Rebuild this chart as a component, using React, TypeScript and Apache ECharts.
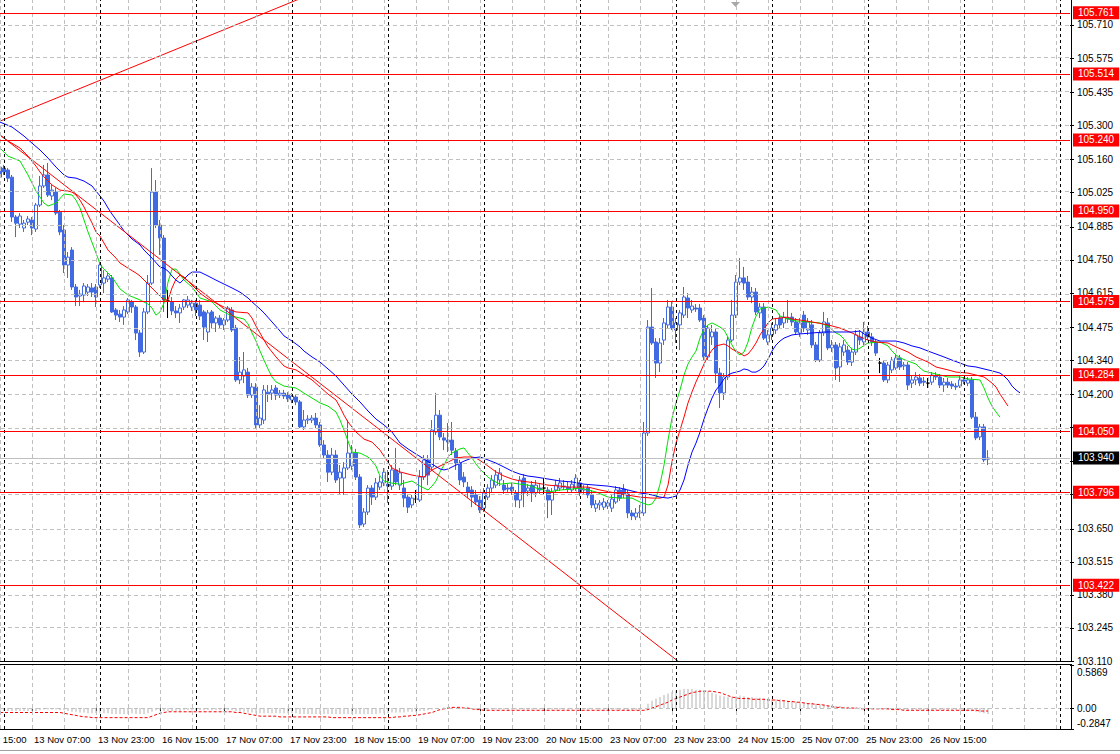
import React, { useEffect, useRef } from "react";
import * as echarts from "echarts";

const FONT = "'Liberation Sans', Arial, sans-serif";

// time scale: hourly bars, the first slot is 12 Nov 15:00 (partly off-screen)
const DAYS = ["12 Nov", "13 Nov", "16 Nov", "17 Nov", "18 Nov", "19 Nov", "20 Nov", "23 Nov", "24 Nov", "25 Nov", "26 Nov", "27 Nov", "30 Nov"];
const FIRST_HOUR = 15;
const TOTAL_SLOTS = 276;
const LEAD = 8; // first candle = 12 Nov 23:00

// candles: [open, high, low, close], hourly from 12 Nov 23:00
const candles: number[][] = [
  [105.129,105.146,105.076,105.088],[105.125,105.138,105.097,105.109],[105.117,105.125,105.068,105.084],[105.088,105.097,104.905,104.925],
  [104.925,104.933,104.843,104.900],[104.896,104.941,104.880,104.929],[104.880,104.913,104.864,104.900],[104.904,104.929,104.892,104.917],
  [104.913,104.925,104.851,104.880],[104.876,104.982,104.864,104.974],[104.974,105.093,104.966,105.052],[105.052,105.138,105.044,105.097],
  [105.097,105.146,105.007,105.015],[105.011,105.056,104.994,105.035],[105.027,105.044,104.933,104.941],[104.945,104.954,104.851,104.864],
  [104.872,104.892,104.696,104.729],[104.729,104.782,104.676,104.761],[104.790,104.802,104.627,104.639],[104.639,104.651,104.561,104.598],
  [104.602,104.627,104.561,104.610],[104.606,104.655,104.577,104.643],[104.618,104.651,104.602,104.639],[104.635,104.655,104.598,104.618],
  [104.639,104.651,104.557,104.598],[104.647,104.741,104.635,104.729],[104.655,104.708,104.614,104.676],[104.671,104.696,104.659,104.684],
  [104.676,104.688,104.533,104.537],[104.545,104.553,104.504,104.524],[104.528,104.545,104.496,104.516],[104.516,104.561,104.484,104.545],
  [104.537,104.594,104.528,104.586],[104.578,104.586,104.533,104.557],[104.557,104.565,104.422,104.451],[104.451,104.463,104.353,104.373],
  [104.373,104.553,104.365,104.537],[104.537,104.688,104.528,104.655],[104.655,105.125,104.647,105.027],[105.027,105.076,104.880,104.892],
  [104.892,104.913,104.770,104.839],[104.839,104.851,104.537,104.586],[104.582,104.627,104.512,104.582],[104.578,104.598,104.524,104.541],
  [104.541,104.561,104.512,104.533],[104.533,104.569,104.492,104.553],[104.557,104.590,104.545,104.586],[104.565,104.602,104.553,104.586],
  [104.557,104.586,104.541,104.573],[104.573,104.586,104.520,104.545],[104.565,104.586,104.504,104.520],[104.537,104.545,104.422,104.475],
  [104.455,104.545,104.414,104.533],[104.537,104.545,104.471,104.492],[104.492,104.520,104.455,104.512],[104.512,104.524,104.467,104.484],
  [104.484,104.512,104.463,104.504],[104.504,104.561,104.496,104.553],[104.545,104.557,104.455,104.463],[104.471,104.484,104.251,104.259],
  [104.259,104.353,104.242,104.291],[104.275,104.373,104.246,104.300],[104.291,104.308,104.185,104.197],[104.197,104.246,104.185,104.230],
  [104.230,104.246,104.062,104.075],[104.075,104.156,104.062,104.103],[104.095,104.238,104.079,104.218],[104.209,104.238,104.169,104.201],
  [104.205,104.238,104.177,104.218],[104.226,104.238,104.177,104.197],[104.197,104.218,104.185,104.205],[104.205,104.218,104.181,104.193],
  [104.197,104.209,104.169,104.181],[104.177,104.205,104.164,104.193],[104.189,104.197,104.156,104.169],[104.169,104.177,104.062,104.067],
  [104.067,104.136,104.054,104.095],[104.095,104.115,104.079,104.099],[104.095,104.115,104.083,104.103],[104.103,104.124,104.062,104.075],
  [104.075,104.087,103.985,103.993],[103.993,104.013,103.940,103.952],[103.952,103.972,103.842,103.882],[103.882,103.981,103.870,103.952],
  [103.952,103.972,103.838,103.850],[103.858,103.911,103.789,103.882],[103.858,103.923,103.789,103.899],[103.899,104.095,103.891,103.960],
  [103.907,103.993,103.891,103.960],[103.960,103.977,103.850,103.862],[103.862,103.874,103.654,103.666],[103.670,103.735,103.658,103.719],
  [103.719,103.829,103.707,103.817],[103.817,103.829,103.748,103.780],[103.780,103.858,103.768,103.838],[103.821,103.866,103.809,103.842],
  [103.838,103.899,103.825,103.882],[103.833,103.891,103.756,103.825],[103.825,103.911,103.809,103.891],[103.891,103.981,103.829,103.842],
  [103.829,103.899,103.809,103.879],[103.817,103.850,103.739,103.776],[103.780,103.793,103.715,103.739],[103.748,103.789,103.735,103.776],
  [103.772,103.809,103.756,103.772],[103.768,103.891,103.760,103.862],[103.862,103.952,103.850,103.932],[103.932,103.952,103.829,103.870],
  [103.903,104.095,103.891,104.054],[104.046,104.206,104.034,104.115],[104.115,104.136,104.013,104.026],[104.022,104.042,103.972,104.013],
  [104.013,104.083,103.964,104.005],[104.013,104.087,103.952,103.972],[103.968,103.981,103.891,103.919],[103.919,103.932,103.829,103.850],
  [103.862,103.882,103.821,103.842],[103.821,103.842,103.776,103.801],[103.809,103.825,103.739,103.780],[103.789,103.809,103.748,103.760],
  [103.768,103.784,103.715,103.727],[103.735,103.817,103.719,103.797],[103.780,103.833,103.768,103.817],[103.817,103.870,103.801,103.850],
  [103.829,103.891,103.817,103.870],[103.850,103.899,103.825,103.879],[103.829,103.850,103.793,103.809],[103.817,103.833,103.797,103.813],
  [103.821,103.838,103.789,103.805],[103.797,103.809,103.739,103.768],[103.768,103.866,103.735,103.850],[103.858,103.874,103.739,103.797],
  [103.805,103.833,103.784,103.817],[103.829,103.846,103.760,103.797],[103.797,103.850,103.780,103.829],[103.817,103.833,103.793,103.809],
  [103.817,103.858,103.789,103.817],[103.809,103.821,103.694,103.768],[103.768,103.817,103.707,103.801],[103.809,103.850,103.797,103.829],
  [103.817,103.858,103.805,103.838],[103.825,103.850,103.809,103.821],[103.821,103.842,103.797,103.813],[103.809,103.850,103.797,103.833],
  [103.817,103.874,103.805,103.858],[103.838,103.850,103.784,103.797],[103.809,103.829,103.793,103.813],[103.817,103.829,103.776,103.789],
  [103.789,103.809,103.735,103.748],[103.735,103.768,103.719,103.752],[103.748,103.768,103.727,103.756],[103.739,103.776,103.727,103.760],
  [103.743,103.768,103.731,103.756],[103.735,103.793,103.719,103.772],[103.760,103.825,103.752,103.809],[103.809,103.821,103.764,103.776],
  [103.813,103.833,103.776,103.793],[103.793,103.809,103.694,103.715],[103.715,103.727,103.686,103.703],[103.699,103.735,103.686,103.715],
  [103.715,103.748,103.694,103.719],[103.715,104.087,103.703,104.042],[104.042,104.504,104.030,104.475],[104.475,104.635,104.402,104.410],
  [104.414,104.430,104.267,104.328],[104.328,104.430,104.291,104.410],[104.422,104.512,104.402,104.492],[104.484,104.586,104.471,104.557],
  [104.557,104.578,104.463,104.471],[104.463,104.512,104.410,104.492],[104.484,104.545,104.381,104.533],[104.524,104.639,104.512,104.598],
  [104.594,104.614,104.512,104.553],[104.545,104.586,104.533,104.561],[104.553,104.569,104.537,104.549],[104.553,104.569,104.496,104.504],
  [104.512,104.524,104.340,104.353],[104.353,104.484,104.340,104.471],[104.435,104.484,104.402,104.455],[104.455,104.471,104.246,104.287],
  [104.287,104.308,104.144,104.206],[104.206,104.287,104.177,104.271],[104.271,104.435,104.259,104.422],[104.422,104.586,104.414,104.524],
  [104.524,104.688,104.512,104.659],[104.659,104.757,104.647,104.676],[104.676,104.721,104.627,104.655],[104.659,104.684,104.586,104.598],
  [104.598,104.639,104.573,104.618],[104.618,104.635,104.524,104.537],[104.533,104.573,104.512,104.557],[104.557,104.573,104.422,104.430],
  [104.414,104.463,104.402,104.443],[104.443,104.492,104.422,104.471],[104.463,104.512,104.447,104.484],[104.512,104.528,104.471,104.484],
  [104.492,104.537,104.471,104.516],[104.512,104.586,104.492,104.508],[104.516,104.533,104.480,104.496],[104.496,104.512,104.443,104.455],
  [104.451,104.512,104.435,104.492],[104.524,104.541,104.455,104.471],[104.463,104.512,104.443,104.496],[104.484,104.504,104.390,104.402],
  [104.402,104.414,104.332,104.340],[104.340,104.463,104.332,104.451],[104.451,104.537,104.439,104.496],[104.492,104.512,104.381,104.390],
  [104.390,104.422,104.373,104.402],[104.402,104.414,104.259,104.308],[104.312,104.410,104.251,104.394],[104.373,104.422,104.357,104.402],
  [104.381,104.398,104.320,104.332],[104.332,104.390,104.316,104.373],[104.373,104.463,104.361,104.443],[104.435,104.463,104.402,104.422],
  [104.414,104.496,104.402,104.455],[104.455,104.480,104.422,104.435],[104.435,104.451,104.398,104.414],[104.414,104.422,104.357,104.369],
  [104.328,104.349,104.287,104.328],[104.328,104.340,104.251,104.259],[104.259,104.332,104.246,104.320],[104.300,104.353,104.287,104.340],
  [104.308,104.361,104.300,104.349],[104.349,104.361,104.300,104.312],[104.316,104.332,104.300,104.320],[104.320,104.332,104.218,104.238],
  [104.246,104.279,104.226,104.259],[104.259,104.291,104.238,104.271],[104.267,104.283,104.234,104.246],[104.254,104.271,104.234,104.250],
  [104.246,104.267,104.226,104.246],[104.250,104.291,104.238,104.279],[104.275,104.291,104.259,104.271],[104.271,104.283,104.226,104.238],
  [104.238,104.267,104.210,104.250],[104.250,104.267,104.226,104.238],[104.242,104.254,104.222,104.234],[104.234,104.246,104.218,104.230],
  [104.234,104.275,104.226,104.259],[104.259,104.271,104.242,104.254],[104.246,104.271,104.234,104.259],[104.259,104.271,104.099,104.107],
  [104.107,104.128,104.013,104.022],[104.026,104.079,104.013,104.067],[104.067,104.079,103.923,103.932],[103.935,103.972,103.911,103.940],
];
const dojiBars = [42, 104, 136, 220, 232];

// Alligator lines: [bar, price]
const lips: number[][] = [
  [0,105.207],[2,105.174],[5,105.154],[7,105.097],[9,105.031],[11,104.982],[12,104.970],[14,104.982],[16,105.019],[18,105.015],[19,104.994],[20,104.962],[22,104.864],[24,104.778],[25,104.733],[26,104.712],[28,104.680],[30,104.631],[32,104.606],[35,104.586],[37,104.569],[38,104.553],[39,104.524],[40,104.537],[41,104.573],[42,104.659],[43,104.712],[44,104.712],[45,104.692],[46,104.667],[48,104.639],[50,104.594],[53,104.578],[55,104.545],[57,104.528],[59,104.516],[61,104.508],[62,104.488],[63,104.451],[64,104.418],[65,104.377],[66,104.340],[67,104.304],[68,104.271],[69,104.251],[71,104.234],[74,104.226],[76,104.205],[78,104.185],[80,104.165],[82,104.152],[84,104.128],[85,104.095],[86,104.054],[87,104.009],[88,103.964],[90,103.960],[92,103.944],[93,103.928],[94,103.907],[95,103.866],[96,103.846],[98,103.837],[100,103.833],[103,103.846],[105,103.825],[107,103.809],[108,103.825],[109,103.846],[110,103.883],[111,103.911],[112,103.944],[113,103.960],[115,103.977],[116,103.981],[117,103.960],[118,103.940],[119,103.915],[120,103.895],[121,103.878],[122,103.862],[123,103.850],[125,103.833],[128,103.838],[130,103.833],[132,103.829],[134,103.817],[136,103.809],[137,103.801],[140,103.809],[143,103.813],[145,103.817],[147,103.809],[149,103.801],[152,103.780],[155,103.776],[158,103.776],[160,103.760],[162,103.748],[163,103.752],[164,103.776],[165,103.833],[166,103.911],[167,104.013],[168,104.103],[169,104.165],[170,104.218],[171,104.279],[172,104.324],[173,104.353],[174,104.377],[175,104.430],[176,104.467],[177,104.484],[178,104.492],[179,104.484],[180,104.475],[181,104.463],[182,104.434],[183,104.402],[184,104.373],[185,104.361],[186,104.373],[187,104.414],[188,104.475],[189,104.520],[190,104.549],[192,104.557],[194,104.545],[195,104.520],[197,104.508],[199,104.500],[202,104.496],[205,104.492],[207,104.479],[209,104.451],[210,104.443],[211,104.426],[212,104.402],[213,104.385],[214,104.381],[215,104.389],[217,104.410],[220,104.414],[222,104.398],[223,104.377],[224,104.361],[225,104.349],[227,104.336],[229,104.324],[230,104.308],[231,104.295],[233,104.287],[235,104.279],[237,104.271],[240,104.271],[242,104.263],[245,104.259],[246,104.226],[247,104.185],[248,104.152],[249,104.128],[250,104.107],
];
const teeth: number[][] = [
  [0,105.260],[2,105.236],[5,105.207],[7,105.174],[9,105.133],[10,105.109],[11,105.089],[13,105.056],[15,105.035],[17,105.031],[18,105.027],[19,105.015],[20,104.994],[21,104.966],[22,104.933],[23,104.901],[24,104.864],[25,104.847],[27,104.790],[29,104.757],[30,104.737],[32,104.716],[34,104.696],[35,104.684],[37,104.651],[39,104.618],[40,104.602],[41,104.586],[42,104.586],[43,104.635],[44,104.671],[45,104.688],[46,104.680],[48,104.647],[50,104.614],[52,104.590],[55,104.565],[57,104.549],[59,104.537],[62,104.533],[63,104.512],[64,104.479],[65,104.451],[66,104.422],[67,104.394],[69,104.353],[71,104.316],[72,104.308],[74,104.300],[76,104.279],[78,104.259],[80,104.230],[82,104.201],[84,104.177],[85,104.148],[86,104.115],[87,104.087],[89,104.046],[91,104.017],[93,104.005],[95,103.972],[97,103.923],[98,103.899],[100,103.883],[103,103.870],[106,103.862],[108,103.891],[110,103.907],[112,103.923],[114,103.940],[116,103.944],[118,103.944],[119,103.940],[121,103.919],[123,103.895],[124,103.883],[126,103.866],[128,103.854],[130,103.846],[132,103.842],[134,103.838],[137,103.829],[140,103.825],[142,103.821],[147,103.821],[150,103.809],[155,103.793],[160,103.780],[163,103.776],[165,103.776],[166,103.780],[167,103.829],[168,103.925],[169,104.001],[170,104.054],[171,104.107],[172,104.165],[173,104.210],[174,104.251],[175,104.287],[176,104.324],[177,104.357],[178,104.381],[179,104.398],[180,104.402],[181,104.406],[182,104.398],[183,104.385],[184,104.377],[185,104.369],[186,104.357],[187,104.365],[188,104.385],[189,104.410],[190,104.443],[191,104.467],[192,104.492],[193,104.508],[195,104.512],[197,104.516],[198,104.508],[200,104.504],[203,104.496],[207,104.484],[210,104.471],[213,104.451],[215,104.435],[217,104.422],[219,104.414],[222,104.410],[224,104.394],[227,104.373],[229,104.353],[232,104.332],[234,104.312],[237,104.300],[239,104.291],[242,104.287],[244,104.279],[246,104.271],[247,104.259],[248,104.246],[249,104.230],[250,104.201],[251,104.177],[252,104.152],
];
const jaw: number[][] = [
  [0,105.313],[3,105.293],[6,105.256],[8,105.227],[10,105.199],[12,105.166],[14,105.129],[16,105.097],[17,105.088],[19,105.084],[21,105.072],[23,105.052],[24,105.031],[25,105.011],[26,104.990],[27,104.962],[28,104.937],[30,104.892],[31,104.868],[33,104.835],[35,104.811],[36,104.790],[38,104.757],[40,104.720],[41,104.716],[42,104.704],[43,104.684],[44,104.667],[45,104.655],[46,104.671],[47,104.688],[48,104.700],[50,104.700],[52,104.684],[54,104.667],[56,104.651],[58,104.635],[60,104.618],[62,104.594],[63,104.578],[65,104.549],[66,104.533],[68,104.496],[70,104.459],[71,104.439],[73,104.418],[75,104.394],[76,104.377],[78,104.353],[80,104.332],[82,104.304],[84,104.275],[86,104.238],[88,104.201],[90,104.169],[92,104.132],[94,104.099],[96,104.075],[98,104.046],[100,104.001],[102,103.977],[104,103.956],[106,103.936],[108,103.915],[110,103.895],[111,103.891],[112,103.895],[114,103.911],[116,103.927],[118,103.940],[120,103.944],[122,103.932],[124,103.919],[126,103.903],[128,103.886],[130,103.874],[132,103.866],[134,103.862],[137,103.854],[140,103.846],[143,103.842],[146,103.833],[149,103.829],[152,103.825],[155,103.817],[158,103.805],[160,103.797],[163,103.789],[165,103.780],[167,103.776],[169,103.784],[170,103.809],[171,103.850],[172,103.911],[173,103.964],[174,104.001],[175,104.046],[176,104.099],[177,104.144],[178,104.185],[179,104.218],[180,104.238],[181,104.263],[182,104.279],[183,104.287],[185,104.295],[186,104.304],[187,104.300],[188,104.291],[189,104.291],[190,104.300],[191,104.316],[192,104.344],[193,104.377],[194,104.402],[195,104.418],[196,104.430],[198,104.443],[200,104.447],[203,104.451],[206,104.455],[210,104.455],[213,104.455],[215,104.459],[216,104.447],[217,104.439],[218,104.430],[220,104.418],[224,104.418],[226,104.410],[228,104.398],[230,104.390],[232,104.377],[234,104.365],[236,104.353],[238,104.340],[240,104.328],[242,104.316],[244,104.312],[246,104.304],[248,104.296],[250,104.287],[251,104.275],[252,104.259],[253,104.234],[254,104.218],[255,104.206],
];

// MACD sub-window, one value per candle
const macdMain: number[] = [
  -0.04,-0.04,-0.04,-0.04,-0.04,-0.04,-0.04,-0.04,-0.04,-0.04,-0.03,
  -0.02,-0.02,-0.02,-0.02,-0.03,
  -0.03,-0.04,-0.05,-0.05,-0.06,-0.06,-0.07,-0.07,-0.07,
  -0.07,-0.07,-0.07,-0.08,-0.08,-0.08,-0.08,-0.08,-0.07,-0.08,-0.08,-0.08,-0.07,
  -0.05,-0.03,-0.03,-0.04,-0.04,-0.04,-0.04,-0.04,-0.03,-0.03,-0.03,
  -0.03,-0.03,-0.03,-0.03,-0.03,-0.03,-0.03,-0.03,-0.03,-0.03,-0.04,-0.05,-0.05,-0.06,
  -0.06,-0.07,-0.07,-0.07,-0.07,-0.07,-0.07,-0.07,-0.07,-0.07,-0.07,-0.07,-0.08,-0.08,-0.08,-0.08,-0.08,-0.08,-0.08,-0.08,-0.08,-0.08,-0.08,-0.08,-0.08,-0.08,-0.08,
  -0.08,-0.08,-0.08,-0.08,-0.08,-0.07,-0.07,-0.07,-0.06,-0.06,-0.06,-0.06,-0.05,-0.05,-0.05,-0.04,-0.04,-0.03,-0.02,-0.01,0.00,0.01,
  0.01,0.01,0.00,-0.01,-0.01,-0.01,-0.01,-0.02,-0.02,
  -0.02,-0.02,-0.02,-0.02,-0.02,-0.02,-0.02,-0.02,-0.02,-0.02,
  -0.02,-0.02,-0.02,-0.02,-0.02,-0.02,-0.02,-0.02,-0.02,-0.02,
  -0.02,-0.02,-0.02,-0.02,-0.02,-0.02,-0.02,-0.02,-0.02,-0.02,
  -0.02,-0.02,-0.02,-0.02,-0.03,-0.03,-0.03,-0.03,-0.03,-0.03,
  0.00,0.06,0.10,0.13,0.15,0.18,0.20,0.22,0.24,0.25,
  0.26,0.26,0.26,0.25,0.25,0.24,0.23,0.21,0.19,0.17,
  0.16,0.15,0.15,0.16,0.17,0.16,0.15,0.15,0.14,0.14,0.13,0.13,0.12,0.12,0.12,
  0.11,0.10,0.10,0.09,0.09,0.08,0.07,0.07,0.06,0.05,0.05,0.04,0.04,0.03,0.03,
  0.02,0.02,0.01,0.01,0.01,0.00,0.00,0.00,0.00,-0.01,-0.01,-0.02,-0.02,-0.02,-0.02,
  -0.03,-0.03,-0.03,-0.03,-0.03,-0.03,-0.03,-0.03,-0.03,-0.03,-0.03,-0.03,-0.03,-0.03,-0.03,-0.03,-0.03,
  -0.04,-0.05,-0.06,-0.07,-0.08,
];
const macdSignal: number[] = [
  -0.06,-0.06,-0.06,-0.06,-0.06,-0.06,-0.06,-0.06,-0.06,-0.06,-0.06,-0.06,-0.06,-0.06,-0.06,-0.06,
  -0.07,-0.08,-0.09,-0.10,-0.11,-0.12,-0.12,
  -0.13,-0.13,-0.13,-0.13,-0.13,-0.13,-0.13,-0.13,-0.13,-0.13,-0.13,-0.13,-0.13,-0.13,-0.13,
  -0.11,-0.09,-0.07,-0.06,-0.05,-0.05,-0.05,-0.05,-0.05,-0.05,-0.05,
  -0.05,-0.05,-0.05,-0.05,-0.05,-0.05,-0.05,-0.05,-0.05,-0.05,-0.06,-0.06,-0.07,-0.08,
  -0.09,-0.10,-0.11,-0.11,-0.11,-0.11,-0.11,-0.12,-0.12,-0.12,
  -0.12,-0.12,-0.12,-0.12,-0.12,-0.12,-0.12,-0.12,-0.12,-0.12,
  -0.13,-0.13,-0.13,-0.13,-0.13,-0.13,-0.13,-0.13,-0.13,-0.13,-0.13,-0.13,-0.13,-0.13,
  -0.13,-0.13,-0.12,-0.12,-0.11,-0.11,-0.10,-0.10,-0.09,-0.08,-0.07,-0.06,-0.04,-0.02,-0.01,
  0.00,0.01,0.01,0.01,0.00,0.00,-0.01,-0.02,-0.02,
  -0.03,-0.03,-0.03,-0.03,-0.03,-0.03,-0.03,-0.03,-0.03,-0.03,
  -0.03,-0.03,-0.03,-0.03,-0.03,-0.03,-0.03,-0.03,-0.03,-0.03,
  -0.03,-0.03,-0.03,-0.03,-0.03,-0.03,-0.03,-0.03,-0.03,-0.03,
  -0.03,-0.03,-0.03,-0.03,-0.03,-0.03,-0.03,-0.03,-0.03,-0.03,
  -0.03,-0.02,0.00,0.02,0.04,0.06,0.08,0.11,0.13,0.15,
  0.17,0.19,0.21,0.22,0.23,0.23,0.23,0.23,0.22,0.21,
  0.19,0.17,0.15,0.14,0.13,0.13,0.13,0.12,0.12,0.12,0.12,0.11,0.11,0.11,0.10,
  0.10,0.09,0.09,0.08,0.08,0.07,0.06,0.06,0.05,0.05,0.04,0.03,0.02,0.01,0.01,
  0.00,0.00,0.00,0.00,-0.01,-0.01,-0.01,-0.01,-0.01,-0.01,-0.01,-0.01,-0.02,-0.02,-0.02,
  -0.03,-0.03,-0.03,-0.03,-0.03,-0.03,-0.03,-0.03,-0.03,-0.03,-0.03,-0.03,-0.03,-0.03,-0.03,-0.03,-0.03,-0.03,-0.03,
  -0.04,-0.04,-0.04,
];

const priceTicks = [105.710, 105.575, 105.435, 105.300, 105.160, 105.025, 104.885, 104.750, 104.615, 104.475, 104.340, 104.200, 104.065, 103.925, 103.790, 103.650, 103.515, 103.380, 103.245, 103.110];
const hiddenTickLabels = [104.065, 103.925, 103.790]; // covered by the level boxes
const levels = ["105.761", "105.514", "105.240", "104.950", "104.575", "104.284", "104.050", "103.796", "103.422"];
const bidPrice = "103.940";
const trendUp: number[][] = [[0, 105.317], [80, 105.851]];
const trendDown: number[][] = [[0, 105.260], [180, 102.976]];
const macdTicks = [0.5869, 0, -0.2847];
const PRICE_MIN = 103.110;
const PRICE_MAX = 105.8122;
const MACD_MIN = -0.2847;
const MACD_MAX = 0.5869;

const categories: string[] = [];
DAYS.forEach((d, k) => {
  for (let h = k === 0 ? FIRST_HOUR : 0; h < 24; h++) {
    if (categories.length < TOTAL_SLOTS) categories.push(`${d} ${String(h).padStart(2, "0")}:00`);
  }
});
const lastBarSlot = LEAD + candles.length - 1;
const showTime = (j: number) => j % 16 === 0 && j <= lastBarSlot;

const SHIFT = 34; // container starts 34px left of the page so slot 0 sits off-screen

export default function App() {
  const ref = useRef<HTMLDivElement>(null);
  useEffect(() => {
    if (!ref.current) return;
    const chart = echarts.init(ref.current, null, { renderer: "svg" });

    const graySlots: number[] = [];
    const daySlots: number[] = [];
    categories.forEach((c, j) => {
      if (c.endsWith(" 00:00")) daySlots.push(j);
      else if (j % 8 === 0) graySlots.push(j);
    });
    const gridDash = { color: "#c0c0c0", type: [4, 3] as any, width: 1 };
    const sepDash = { color: "#000", type: [3, 3] as any, width: 1 };
    const vLines = [
      ...graySlots.map((j) => ({ xAxis: categories[j], lineStyle: gridDash })),
      ...daySlots.map((j) => ({ xAxis: categories[j], lineStyle: sepDash })),
    ];

    const candleData = candles.map((c, i) => {
      const value = [i + LEAD, c[0], c[3], c[2], c[1]];
      return dojiBars.includes(i)
        ? { value, itemStyle: { color: "#000", color0: "#000", borderColor: "#000", borderColor0: "#000" } }
        : value;
    });
    const toSlots = (arr: number[][]) => arr.map(([i, v]) => [i + LEAD, v]);

    const labelBox = (bg: string) => ({
      show: true,
      position: "end",
      distance: 3,
      formatter: (p: any) => p.name,
      color: "#fff",
      backgroundColor: bg,
      padding: [2, 5, 1, 5],
      fontSize: 10,
      fontFamily: FONT,
    });
    const X = (x: number) => x + SHIFT;

    chart.setOption({
      animation: false,
      backgroundColor: "#ffffff",
      textStyle: { fontFamily: FONT },
      grid: [
        { left: 0, top: 0, width: 1104, height: 661 },
        { left: 0, top: 665, width: 1104, height: 64 },
      ],
      xAxis: [
        { type: "category", gridIndex: 0, data: categories, boundaryGap: true, show: false },
        {
          type: "category",
          gridIndex: 1,
          data: categories,
          boundaryGap: true,
          axisLine: { show: false },
          axisTick: { show: true, alignWithLabel: true, interval: showTime, length: 4, lineStyle: { color: "#000" } },
          axisLabel: { interval: showTime, align: "left", color: "#000", fontSize: 9.5, fontFamily: FONT, margin: 5, padding: [0, 0, 0, 2] },
          splitLine: { show: false },
        },
      ],
      yAxis: [
        {
          type: "value",
          gridIndex: 0,
          position: "right",
          min: PRICE_MIN,
          max: PRICE_MAX,
          axisLine: { show: false },
          splitLine: { show: false },
          axisTick: { show: true, customValues: priceTicks, length: 4, lineStyle: { color: "#000" } },
          axisLabel: {
            customValues: priceTicks.filter((v) => !hiddenTickLabels.includes(v)),
            formatter: (v: number) => v.toFixed(3),
            color: "#000",
            fontSize: 10,
            fontFamily: FONT,
            margin: 7,
          },
        },
        {
          type: "value",
          gridIndex: 1,
          position: "right",
          min: MACD_MIN,
          max: MACD_MAX,
          axisLine: { show: false },
          splitLine: { show: false },
          axisTick: { show: true, customValues: macdTicks, length: 4, lineStyle: { color: "#000" } },
          axisLabel: {
            customValues: macdTicks,
            formatter: (v: number) => (v === 0 ? "0.00" : v > 0 ? `{t|${v.toFixed(4)}}` : `{b|${v.toFixed(4)}}`),
            color: "#000",
            fontSize: 10,
            fontFamily: FONT,
            margin: 7,
            rich: {
              t: { padding: [14, 0, 0, 0], fontSize: 10, fontFamily: FONT, color: "#000" },
              b: { padding: [0, 0, 12, 0], fontSize: 10, fontFamily: FONT, color: "#000" },
            },
          },
        },
      ],
      series: [
        {
          name: "grid-main",
          type: "line",
          xAxisIndex: 0,
          yAxisIndex: 0,
          data: [],
          z: 1,
          silent: true,
          markLine: {
            silent: true,
            symbol: ["none", "none"],
            label: { show: false },
            lineStyle: gridDash,
            data: [...priceTicks.map((v) => ({ yAxis: v })), ...vLines],
          },
        },
        {
          name: "grid-macd",
          type: "line",
          xAxisIndex: 1,
          yAxisIndex: 1,
          data: [],
          z: 1,
          silent: true,
          markLine: {
            silent: true,
            symbol: ["none", "none"],
            label: { show: false },
            lineStyle: gridDash,
            data: [{ yAxis: 0 }, ...vLines],
          },
        },
        {
          name: "USDJPY,H1",
          type: "candlestick",
          xAxisIndex: 0,
          yAxisIndex: 0,
          encode: { x: 0, y: [1, 2, 3, 4] },
          barWidth: 3,
          z: 2,
          itemStyle: { color: "#ffffff", color0: "#4169e1", borderColor: "#4169e1", borderColor0: "#4169e1", borderWidth: 1 },
          data: candleData,
        },
        { name: "Lips", type: "line", xAxisIndex: 0, yAxisIndex: 0, symbol: "none", z: 3, lineStyle: { color: "#00e000", width: 1 }, data: toSlots(lips) },
        { name: "Teeth", type: "line", xAxisIndex: 0, yAxisIndex: 0, symbol: "none", z: 3, lineStyle: { color: "#ff0000", width: 1 }, data: toSlots(teeth) },
        { name: "Jaw", type: "line", xAxisIndex: 0, yAxisIndex: 0, symbol: "none", z: 3, lineStyle: { color: "#0000ff", width: 1 }, data: toSlots(jaw) },
        { name: "Trend up", type: "line", xAxisIndex: 0, yAxisIndex: 0, symbol: "none", z: 3, lineStyle: { color: "#ff0000", width: 1 }, data: toSlots(trendUp) },
        { name: "Trend down", type: "line", xAxisIndex: 0, yAxisIndex: 0, symbol: "none", z: 3, lineStyle: { color: "#ff0000", width: 1 }, data: toSlots(trendDown) },
        {
          name: "levels",
          type: "line",
          xAxisIndex: 0,
          yAxisIndex: 0,
          data: [],
          z: 5,
          silent: true,
          markLine: {
            silent: true,
            symbol: ["none", "none"],
            label: labelBox("#ff0000"),
            lineStyle: { color: "#ff0000", type: "solid", width: 1 },
            data: levels.map((s) => ({ name: s, yAxis: Number(s) })),
          },
        },
        {
          name: "bid",
          type: "line",
          xAxisIndex: 0,
          yAxisIndex: 0,
          data: [],
          z: 4,
          silent: true,
          markLine: {
            silent: true,
            symbol: ["none", "none"],
            label: labelBox("#000000"),
            lineStyle: { color: "#c0c0c0", type: "solid", width: 1 },
            data: [{ name: bidPrice, yAxis: Number(bidPrice) }],
          },
        },
        {
          name: "MACD",
          type: "bar",
          xAxisIndex: 1,
          yAxisIndex: 1,
          barWidth: 1,
          z: 2,
          itemStyle: { color: "#b4b4b4" },
          data: macdMain.map((v, i) => [i + LEAD, v]),
        },
        {
          name: "Signal",
          type: "line",
          xAxisIndex: 1,
          yAxisIndex: 1,
          symbol: "none",
          z: 3,
          lineStyle: { color: "#ff0000", width: 1, type: [3, 2] },
          data: macdSignal.map((v, i) => [i + LEAD, v]),
        },
      ],
      graphic: [
        { type: "line", shape: { x1: X(0), y1: 661.5, x2: X(1072), y2: 661.5 }, style: { stroke: "#000", lineWidth: 1 }, z: 10 },
        { type: "line", shape: { x1: X(0), y1: 664.5, x2: X(1072), y2: 664.5 }, style: { stroke: "#000", lineWidth: 1 }, z: 10 },
        { type: "line", shape: { x1: X(0), y1: 729.5, x2: X(1072), y2: 729.5 }, style: { stroke: "#000", lineWidth: 1 }, z: 10 },
        { type: "line", shape: { x1: X(1071.5), y1: 0, x2: X(1071.5), y2: 661.5 }, style: { stroke: "#000", lineWidth: 1 }, z: 10 },
        { type: "line", shape: { x1: X(1071.5), y1: 664.5, x2: X(1071.5), y2: 729.5 }, style: { stroke: "#000", lineWidth: 1 }, z: 10 },
        { type: "polygon", shape: { points: [[X(731), 2], [X(740), 2], [X(735.5), 7]] }, style: { fill: "#a8a8a8" }, z: 10 },
        { type: "line", shape: { x1: X(0), y1: 750.5, x2: X(1120), y2: 750.5 }, style: { stroke: "#a0a0a0", lineWidth: 1 }, z: 10 },
      ],
    });
    return () => chart.dispose();
  }, []);

  return <div ref={ref} style={{ position: "absolute", left: -SHIFT, top: 0, width: 1120 + SHIFT, height: 754 }} />;
}
